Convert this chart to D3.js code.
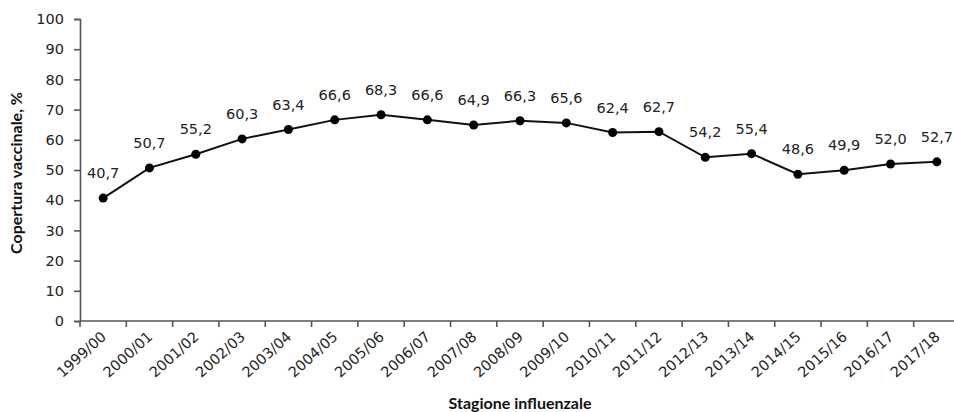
<!DOCTYPE html>
<html>
<head>
<meta charset="utf-8">
<script src="https://cdn.jsdelivr.net/npm/d3@7"></script>
<style>
  body { margin: 0; background: #fff; }
  svg { display: block; }
  .tick text, .lbl { font-family: "DejaVu Sans", Verdana, sans-serif; font-size: 14.5px; fill: #222; }
  .title { font-family: Lato, "Open Sans", sans-serif; font-weight: bold; font-size: 16px; fill: #111; }
</style>
</head>
<body>
<svg id="chart" width="954" height="412"></svg>
<script>
// Influenza vaccination coverage by season
const seasons = ["1999/00","2000/01","2001/02","2002/03","2003/04","2004/05","2005/06","2006/07","2007/08","2008/09","2009/10","2010/11","2011/12","2012/13","2013/14","2014/15","2015/16","2016/17","2017/18"];
const coverage = [40.7,50.7,55.2,60.3,63.4,66.6,68.3,66.6,64.9,66.3,65.6,62.4,62.7,54.2,55.4,48.6,49.9,52.0,52.7];
const yTicks = [0,10,20,30,40,50,60,70,80,90,100];

const svg = d3.select("#chart");
const plotLeft = 80, plotRight = 960, plotTop = 19, plotBottom = 321;

const x = d3.scaleBand().domain(seasons).range([plotLeft, plotRight]).padding(0);
const y = d3.scaleLinear().domain([0, 100]).range([plotBottom, plotTop]);
const fmt = v => d3.format(".1f")(v).replace(".", ",");

// y axis
const ya = svg.append("g").attr("transform", `translate(${plotLeft},0)`)
  .call(d3.axisLeft(y).tickValues(yTicks).tickSize(6).tickPadding(10));
ya.select(".domain").attr("stroke", "#555").attr("stroke-width", 1.6);
ya.selectAll(".tick line").attr("stroke", "#555").attr("stroke-width", 1.6);

// x axis: ticks on category boundaries
const xa = svg.append("g").attr("transform", `translate(0,${plotBottom})`);
xa.append("line").attr("x1", plotLeft).attr("x2", plotRight).attr("stroke", "#555").attr("stroke-width", 1.6);
xa.selectAll("line.tk").data(seasons).enter().append("line").attr("class", "tk")
  .attr("x1", d => x(d)).attr("x2", d => x(d)).attr("y1", 0).attr("y2", 6)
  .attr("stroke", "#555").attr("stroke-width", 1.6);
xa.selectAll("text").data(seasons).enter().append("text")
  .attr("class", "lbl")
  .attr("text-anchor", "end")
  .attr("transform", d => `translate(${x(d) + x.bandwidth() / 2 + 4},${17}) rotate(-42)`)
  .text(d => d);

// line and markers
const cx = d => x(d) + x.bandwidth() / 2;
const line = d3.line().x((d, i) => cx(seasons[i])).y(d => y(d));
svg.append("path").datum(coverage).attr("d", line)
  .attr("fill", "none").attr("stroke", "#111").attr("stroke-width", 2);
svg.selectAll("circle.pt").data(coverage).enter().append("circle").attr("class", "pt")
  .attr("cx", (d, i) => cx(seasons[i])).attr("cy", d => y(d)).attr("r", 4.5).attr("fill", "#000");

// value labels
svg.selectAll("text.val").data(coverage).enter().append("text").attr("class", "lbl val")
  .attr("x", (d, i) => cx(seasons[i])).attr("y", d => y(d) - 20)
  .attr("text-anchor", "middle").text(d => fmt(d));

// axis titles
svg.append("text").attr("class", "title").attr("text-anchor", "middle")
  .attr("transform", `translate(22,173) rotate(-90)`)
  .text("Copertura vaccinale, %");
svg.append("text").attr("class", "title").attr("text-anchor", "middle")
  .attr("x", 520).attr("y", 409).text("Stagione influenzale");
</script>
</body>
</html>
